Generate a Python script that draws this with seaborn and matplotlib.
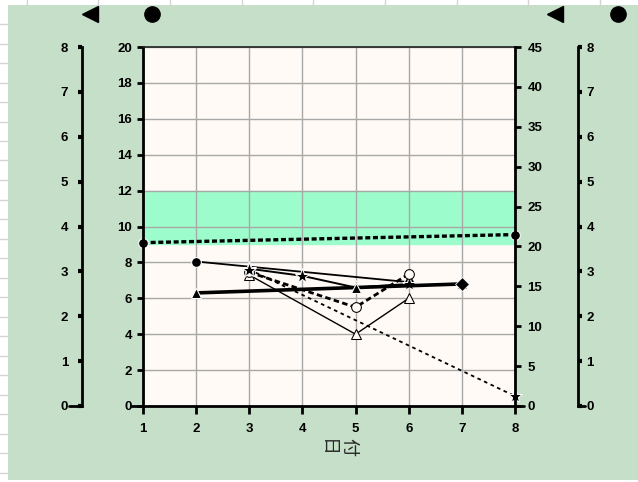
import numpy as np
import matplotlib
matplotlib.use("Agg")
import matplotlib.pyplot as plt
import seaborn as sns
from matplotlib.patches import Rectangle
from matplotlib.lines import Line2D

# data (left scale 0-20)
days = [1, 2, 3, 4, 5, 6, 7, 8]
left_ticks = list(range(0, 21, 2))
right_ticks = list(range(0, 46, 5))
outer_ticks = list(range(0, 9))
band_low, band_high = 9, 12

top_x = [1, 8]
top_y = [9.1, 9.55]
circ_x = [2, 6]
circ_y = [8.05, 6.9]
star_x = [3, 4, 5, 6]
star_y = [7.65, 7.25, 6.6, 6.8]
thick_x = [2, 5, 7]
thick_y = [6.3, 6.6, 6.8]
otri_x = [3, 5, 6]
otri_y = [7.3, 4.0, 6.0]
ocirc_x = [3, 5, 6]
ocirc_y = [7.45, 5.5, 7.35]
fall_x = [3, 8]
fall_y = [7.6, 0.55]

W, H = 638, 482
sns.set_theme(style="white")
plt.rcParams["font.family"] = ["Liberation Sans", "Noto Sans CJK JP"]
plt.rcParams["font.weight"] = "bold"

fig = plt.figure(figsize=(W / 100, H / 100), dpi=100)
fig.patch.set_facecolor("white")

# hoja de calculo detras
for gx in [27, 98, 170, 242, 313, 385, 457, 528, 600]:
    fig.add_artist(Line2D([gx / W] * 2, [1, 1 - 6 / H], color="#d4d4d4", lw=1))
for gy in np.arange(24, 480, 19.5):
    fig.add_artist(Line2D([0, 8 / W], [1 - gy / H] * 2, color="#d4d4d4", lw=1))
fig.add_artist(Rectangle((8 / W, 2 / H), 630 / W, 475 / H,
                         transform=fig.transFigure, facecolor="#c6dfc8",
                         edgecolor="none", zorder=0))

# eje principal
ax = fig.add_axes([143 / W, 1 - 406 / H, (515 - 143) / W, (406 - 47) / H])
ax.set_facecolor("#fffaf5")
ax.axhspan(band_low, band_high, color="#9cfccc", zorder=0)
ax.set_xlim(1, 8)
ax.set_ylim(0, 20)
ax.set_xticks(days)
ax.set_yticks(left_ticks)
ax.grid(True, color="#a8a8a8", lw=1)
ax.set_axisbelow(True)
for s in ["left", "bottom"]:
    ax.spines[s].set_linewidth(2)
    ax.spines[s].set_color("black")
ax.spines["top"].set_linewidth(1.2)
ax.spines["top"].set_color("#222222")
ax.spines["right"].set_visible(False)
ax.tick_params(axis="y", direction="out", length=4, width=2, labelsize=9.5,
               colors="black", pad=4, left=True)
ax.tick_params(axis="x", direction="out", length=6, width=2, labelsize=9.5,
               colors="black", pad=6, bottom=True)

# series
sns.lineplot(x=top_x, y=top_y, ax=ax, color="black", lw=2.4,
             linestyle=(0, (1.5, 0.8)), marker="o", markersize=7, clip_on=False)
sns.lineplot(x=circ_x, y=circ_y, ax=ax, color="black", lw=1.3,
             marker="o", markersize=7)
sns.lineplot(x=star_x, y=star_y, ax=ax, color="black", lw=1.4,
             marker="*", markersize=11)
sns.lineplot(x=otri_x, y=otri_y, ax=ax, color="black", lw=1,
             marker="^", markersize=7, markerfacecolor="#fffaf5",
             markeredgecolor="black")
sns.lineplot(x=ocirc_x, y=ocirc_y, ax=ax, color="black", lw=2,
             linestyle=(0, (2, 1.2)), marker="o", markersize=7,
             markerfacecolor="#fffaf5", markeredgecolor="black")
sns.lineplot(x=fall_x, y=fall_y, ax=ax, color="black", lw=1.3,
             linestyle=(0, (2, 2)), marker="*", markersize=11,
             clip_on=False)
sns.lineplot(x=thick_x, y=thick_y, ax=ax, color="black", lw=2.6,
             marker="^", markersize=7)
sns.scatterplot(x=[thick_x[-1]], y=[thick_y[-1]], ax=ax, color="black",
                marker="D", s=50, zorder=5)
ax.set_xlabel("")
ax.set_ylabel("")

# eje derecho interior 0-45
ax2 = ax.twinx()
ax2.set_ylim(0, 45)
ax2.set_yticks(right_ticks)
for s in ["left", "top", "bottom"]:
    ax2.spines[s].set_visible(False)
ax2.spines["right"].set_linewidth(2)
ax2.spines["right"].set_color("black")
ax2.tick_params(axis="y", direction="out", length=4, width=2, labelsize=9.5,
                colors="black", pad=5, right=True, left=False)
ax2.grid(False)

# marcas largas en el cero
fig.add_artist(Line2D([131 / W, 143 / W], [1 - 406 / H] * 2, color="black", lw=2))
fig.add_artist(Line2D([515 / W, 524 / W], [1 - 406 / H] * 2, color="black", lw=2))

# ejes exteriores 0-8
for xpix, side in [(82, "left"), (578, "right")]:
    a = fig.add_axes([xpix / W, 1 - 406 / H, 0.0001, (406 - 47) / H])
    a.patch.set_visible(False)
    for s in a.spines:
        a.spines[s].set_visible(s == side)
    a.spines[side].set_linewidth(2)
    a.spines[side].set_color("black")
    a.set_ylim(0, 8)
    a.set_yticks(outer_ticks)
    a.set_xticks([])
    a.grid(False)
    if side == "right":
        a.yaxis.tick_right()
        a.tick_params(axis="y", right=True, left=False, pad=3)
    else:
        a.tick_params(axis="y", left=True, right=False, pad=7)
    a.tick_params(axis="y", direction="out", length=3, width=3,
                  labelsize=9.5, colors="black")
    dx = -13 if side == "left" else 7
    fig.add_artist(Line2D([xpix / W, (xpix + dx) / W], [1 - 406 / H] * 2,
                          color="black", lw=2))

# etiqueta del eje x
fig.text(327 / W, 1 - 448 / H, "日", rotation=270, fontsize=13,
         ha="center", va="center", family=["Noto Sans CJK JP"],
         fontweight="normal")
fig.text(348 / W, 1 - 447 / H, "付", rotation=270, fontsize=13,
         ha="center", va="center", family=["Noto Sans CJK JP"],
         fontweight="normal")

# marcadores de arriba
for mx, mk in [(90, "<"), (152, "o"), (555, "<"), (618, "o")]:
    fig.add_artist(Line2D([mx / W], [1 - 14 / H], marker=mk, markersize=11,
                          color="black", lw=0))

fig.savefig("out.png", dpi=100)
